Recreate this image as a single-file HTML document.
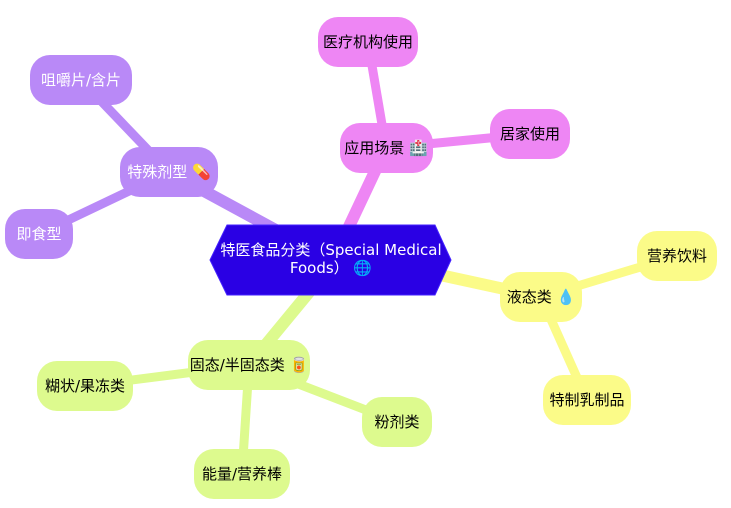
<!DOCTYPE html>
<html><head><meta charset="utf-8"><style>
html,body{margin:0;padding:0;background:#fff;}
svg{display:block;}
text{font-family:"DejaVu Sans","Noto Sans CJK SC",sans-serif;font-size:15px;dominant-baseline:central;text-anchor:middle;}
</style></head><body>
<svg width="731" height="508" viewBox="0 0 731 508" xmlns="http://www.w3.org/2000/svg">
<g stroke-linecap="round">
<line x1="345" y1="235" x2="386" y2="148" stroke="#ee86f4" stroke-width="12"/>
<line x1="386" y1="148" x2="368" y2="42" stroke="#ee86f4" stroke-width="9"/>
<line x1="386" y1="148" x2="530" y2="134" stroke="#ee86f4" stroke-width="9"/>
<line x1="285" y1="235" x2="169" y2="172" stroke="#b989f7" stroke-width="12"/>
<line x1="169" y1="172" x2="81" y2="80" stroke="#b989f7" stroke-width="9"/>
<line x1="169" y1="172" x2="39" y2="234" stroke="#b989f7" stroke-width="9"/>
<line x1="440" y1="275" x2="541" y2="297" stroke="#fbfb88" stroke-width="12"/>
<line x1="541" y1="297" x2="677" y2="256" stroke="#fbfb88" stroke-width="9"/>
<line x1="541" y1="297" x2="587" y2="400" stroke="#fbfb88" stroke-width="9"/>
<line x1="315" y1="285" x2="249" y2="365" stroke="#ddfa8e" stroke-width="12"/>
<line x1="249" y1="365" x2="85" y2="386" stroke="#ddfa8e" stroke-width="9"/>
<line x1="249" y1="365" x2="397" y2="422" stroke="#ddfa8e" stroke-width="9"/>
<line x1="249" y1="365" x2="242" y2="474" stroke="#ddfa8e" stroke-width="9"/>
</g>
<polygon points="210,260 227,225 435,225 451,260 435,295 227,295" fill="#2a00e4" stroke="#4422ff" stroke-width="1"/>
<text x="331" y="250" fill="#fff">特医食品分类（Special Medical</text>
<text x="331" y="268" fill="#fff">Foods） 🌐</text>

<g>
<rect x="318" y="17" width="100" height="50" rx="20" fill="#ee86f4"/><text x="368" y="42">医疗机构使用</text>
<rect x="490" y="109" width="80" height="50" rx="20" fill="#ee86f4"/><text x="530" y="134">居家使用</text>
<rect x="340" y="123" width="93" height="50" rx="20" fill="#ee86f4"/><text x="386" y="148">应用场景 🏥</text>

<rect x="120" y="147" width="98" height="50" rx="20" fill="#b989f7"/><text x="169" y="172" fill="#fff">特殊剂型 💊</text>
<rect x="30" y="55" width="102" height="50" rx="20" fill="#b989f7"/><text x="81" y="80" fill="#fff">咀嚼片/含片</text>
<rect x="5" y="209" width="68" height="50" rx="20" fill="#b989f7"/><text x="39" y="234" fill="#fff">即食型</text>

<rect x="500" y="272" width="82" height="50" rx="20" fill="#fbfb88"/><text x="541" y="297">液态类 💧</text>
<rect x="637" y="231" width="80" height="50" rx="20" fill="#fbfb88"/><text x="677" y="256">营养饮料</text>
<rect x="543" y="375" width="88" height="50" rx="20" fill="#fbfb88"/><text x="587" y="400">特制乳制品</text>

<rect x="188" y="340" width="122" height="50" rx="20" fill="#ddfa8e"/><text x="249" y="365">固态/半固态类 🥫</text>
<rect x="37" y="361" width="96" height="50" rx="20" fill="#ddfa8e"/><text x="85" y="386">糊状/果冻类</text>
<rect x="362" y="397" width="70" height="50" rx="20" fill="#ddfa8e"/><text x="397" y="422">粉剂类</text>
<rect x="194" y="449" width="96" height="50" rx="20" fill="#ddfa8e"/><text x="242" y="474">能量/营养棒</text>
</g>
</svg>
</body></html>
